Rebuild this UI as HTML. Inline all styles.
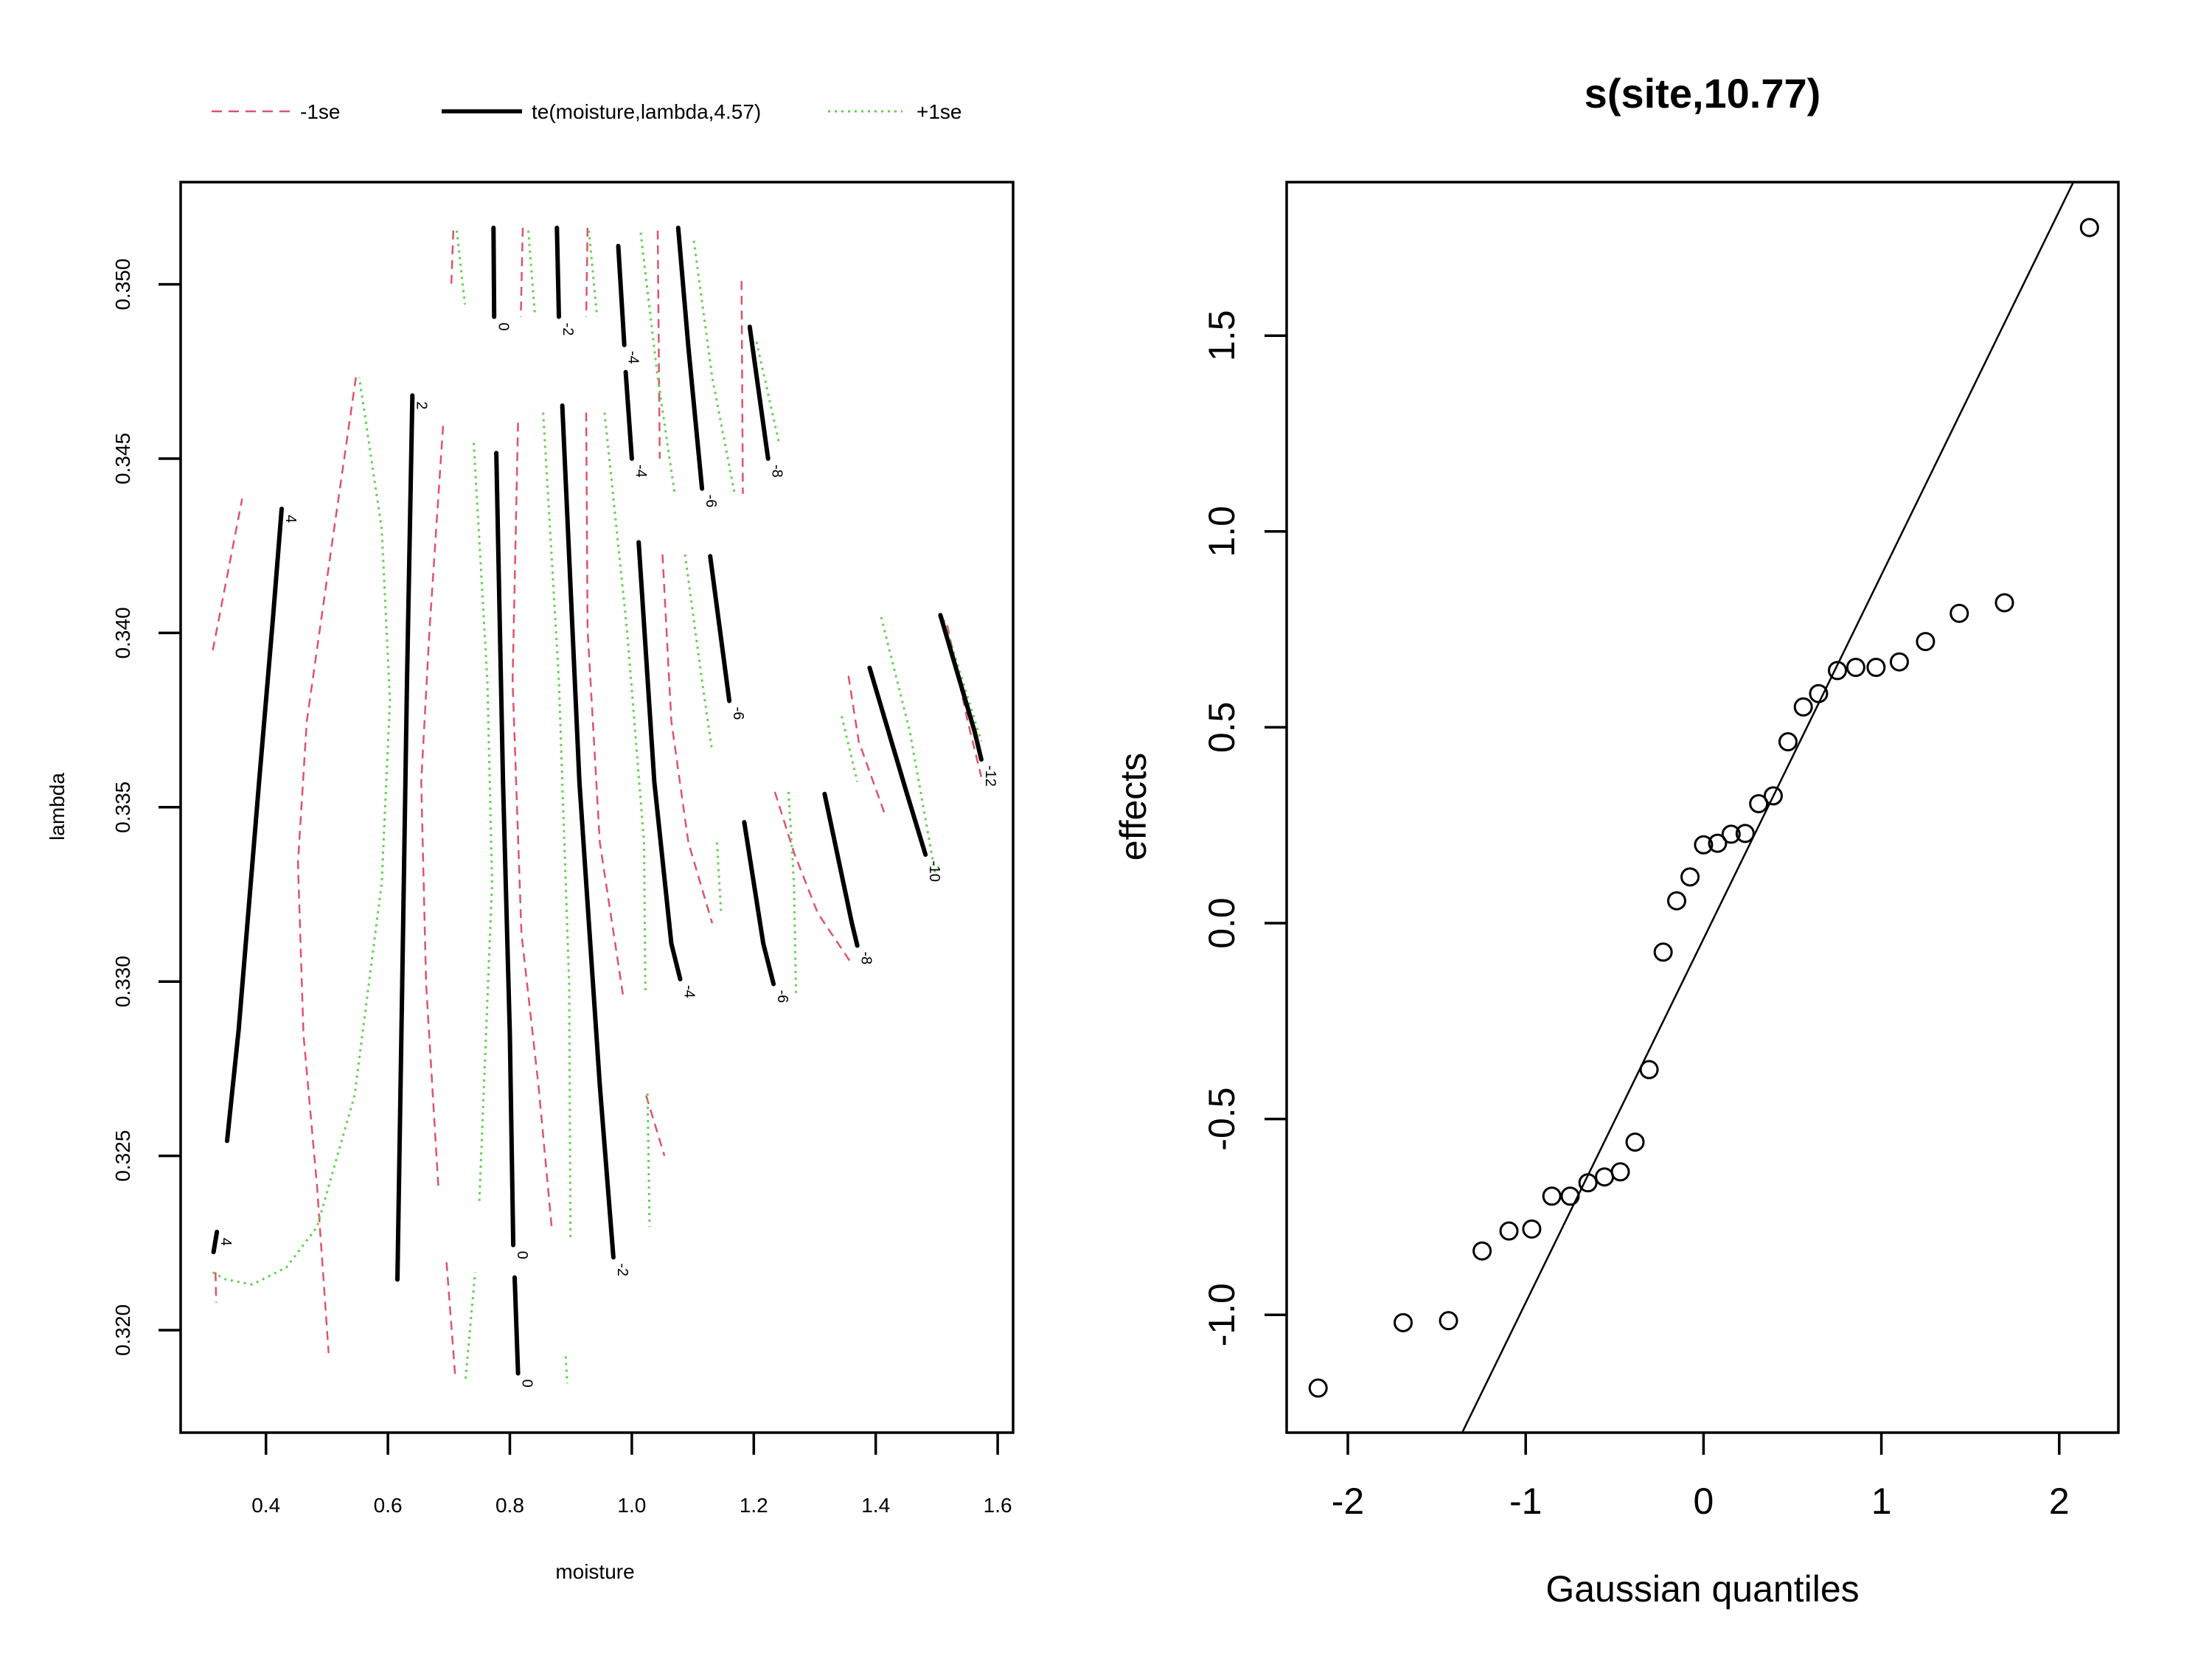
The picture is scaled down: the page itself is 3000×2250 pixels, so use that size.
<!DOCTYPE html>
<html><head><meta charset="utf-8"><style>
html,body{margin:0;padding:0;background:#fff;width:3000px;height:2250px;overflow:hidden;}
svg{display:block;font-family:"Liberation Sans",Arial,sans-serif;}
</style></head><body>
<svg id="chart" width="3000" height="2250" viewBox="0 0 3000 2250" xmlns="http://www.w3.org/2000/svg">
<rect x="0" y="0" width="3000" height="2250" fill="#fff"/>
<g id="left"></g>
<g id="right"></g>
</svg>
<script>
// ---- Right panel data (QQ plot) ----
const qqX = [-2.167,-1.689,-1.434,-1.245,-1.094,-0.966,-0.853,-0.750,-0.650,-0.557,-0.468,-0.385,-0.306,-0.227,-0.151,-0.076,0,0.079,0.155,0.234,0.310,0.392,0.475,0.561,0.647,0.753,0.856,0.970,1.101,1.248,1.438,1.692,2.170];
const qqY = [-1.187,-1.020,-1.015,-0.837,-0.786,-0.781,-0.697,-0.697,-0.663,-0.648,-0.635,-0.559,-0.374,-0.074,0.057,0.118,0.200,0.204,0.227,0.229,0.305,0.325,0.463,0.552,0.586,0.645,0.653,0.653,0.667,0.719,0.791,0.818,1.776];
const qqLine = [-0.040, 0.929]; // intercept, slope
const qqXTicks = [-2,-1,0,1,2];
const qqYTicks = [-1.0,-0.5,0.0,0.5,1.0,1.5];

// ---- Left panel data (contours: [moisture array, lambda array, label]) ----
const xTicksL = [0.4,0.6,0.8,1.0,1.2,1.4,1.6];
const yTicksL = [0.320,0.325,0.330,0.335,0.340,0.345,0.350];
const fitM = [
 [[.3363,.3553,.3888,.4112,.4257],[.32543,.32862,.33573,.34037,.34356],"4"],
 [[.314,.3196],[.32224,.32282],"4"],
 [[.6156,.6235,.6313,.6402],[.32145,.32993,.33863,.34681],"2"],
 [[.7777,.7888,.8000,.8056],[.34516,.33573,.32847,.32244],"0"],
 [[.8078,.8134],[.32151,.31876],"0"],
 [[.886,.914,.9475,.9698],[.34652,.33573,.32702,.32209],"-2"],
 [[1.0112,1.0369,1.0648,1.0793],[.3426,.33573,.33109,.33007],"-4"],
 [[1.1285,1.1598],[.3422,.33805],"-6"],
 [[1.1844,1.2156,1.2324],[.33457,.33109,.32993],"-6"],
 [[1.3162,1.3609,1.3698],[.33538,.33167,.33103],"-8"],
 [[1.39,1.4503,1.4816],[.339,.33544,.33364],"-10"],
 [[1.5061,1.5620,1.5732],[.34051,.33718,.33637],"-12"],
 [[.7732,.7743],[.35162,.34907],"0"],
 [[.8771,.8804],[.35162,.34907],"-2"],
 [[.9777,.9877],[.3511,.34826],"-4"],
 [[.99,1.0],[.34748,.345],"-4"],
 [[1.076,1.0927,1.1151],[.35162,.3482,.34414],"-6"],
 [[1.1933,1.2235],[.34878,.345],"-8"]
];
const loM = [
 [[.3128,.3385,.3609],[.3395,.34182,.34385]],
 [[.3173,.3184],[.32166,.32079]],
 [[.5475,.5117,.4670,.4525,.4615,.4838,.5028],[.34733,.34298,.33747,.33341,.32847,.32412,.31934]],
 [[.6905,.6682,.6547,.6626,.6827],[.34594,.34008,.33573,.32993,.32412]],
 [[.7073,.7039],[.35154,.34994]],
 [[.6961,.7106],[.32195,.31861]],
 [[.8134,.8045,.8190,.8469,.8693],[.34603,.33863,.33138,.32702,.32282]],
 [[.8212,.8179],[.35162,.34907]],
 [[.9251,.9274,.9475,.9866],[.34632,.34008,.33399,.32949]],
 [[.9274,.9251],[.35162,.34907]],
 [[1.0425,1.0458],[.35154,.345]],
 [[1.0503,1.0648,1.0927,1.1318],[.34225,.33747,.33399,.33167]],
 [[1.1799,1.1821],[.35009,.34399]],
 [[1.2346,1.2659,1.305,1.3587],[.33544,.3337,.33196,.33056]],
 [[1.3553,1.3721,1.4168],[.33877,.33689,.33471]],
 [[1.5173,1.5508,1.5732],[.34022,.33747,.33587]],
 [[1.0235,1.0536],[.32673,.325]]
];
const hiM = [
 [[.3128,.3330,.3777,.4335,.4838,.5453,.5899,.6034,.5899,.5531],[.32166,.32146,.32131,.3218,.32296,.32673,.33283,.33805,.34298,.34733]],
 [[.7129,.7263],[.35154,.34942]],
 [[.7274,.7430],[.31861,.32166]],
 [[.7408,.7631,.7709,.7575,.7497],[.34545,.33863,.33283,.32702,.3236]],
 [[.8302,.8413],[.35154,.34907]],
 [[.8547,.8804,.8972,.8994],[.34632,.33863,.32993,.32267]],
 [[.8916,.8939],[.31925,.31847]],
 [[.9296,.9430],[.35154,.34907]],
 [[.9553,.9922,1.0201,1.0223],[.34632,.34008,.33399,.32964]],
 [[1.0145,1.0425,1.0704],[.35148,.34733,.34399]],
 [[1.0872,1.1151,1.1318],[.34225,.33863,.3366]],
 [[1.1017,1.1318,1.1687],[.35125,.34733,.34399]],
 [[1.1397,1.1464],[.33399,.33196]],
 [[1.2045,1.2413],[.34835,.34545]],
 [[1.2570,1.2659,1.2693],[.33544,.33283,.32964]],
 [[1.3441,1.3698],[.33761,.33573]],
 [[1.4089,1.4559,1.4972],[.34045,.33718,.33312]],
 [[1.5117,1.5732],[.34037,.33689]],
 [[1.0257,1.0291],[.32679,.32296]]
];

const NS="http://www.w3.org/2000/svg";
function mk(parent,tag,attrs,text){const e=document.createElementNS(NS,tag);for(const k in attrs)e.setAttribute(k,attrs[k]);if(text!==undefined)e.textContent=text;parent.appendChild(e);return e;}

// axis functions
const xm = m => 360.7 + (m-0.4)*827;
const yL = l => 385.6 + (0.350-l)*47280;
const xq = q => 2310.4 + q*241.2;
const yE = e => 1252 - e*531.2;

// ---------- LEFT ----------
const L = document.getElementById('left');
const LB={x0:245,x1:1374,y0:247,y1:1943};
let lbox=mk(L,'rect',{x:LB.x0,y:LB.y0,width:LB.x1-LB.x0,height:LB.y1-LB.y0,fill:'none',stroke:'#000','stroke-width':3.5});


xTicksL.forEach(t=>{
  const x=xm(t);
  let tk=mk(L,'line',{x1:x,x2:x,y1:LB.y1,y2:LB.y1+30,stroke:'#000','stroke-width':3.5});
  
  
  let tl=mk(L,'text',{x:x,y:2051,'font-size':28,'text-anchor':'middle'},t.toFixed(1));
  
  
});
yTicksL.forEach(t=>{
  const y=yL(t);
  let tk=mk(L,'line',{x1:LB.x0-30,x2:LB.x0,y1:y,y2:y,stroke:'#000','stroke-width':3.5});
  
  
  let tl=mk(L,'text',{x:176,y:y,'font-size':28,'text-anchor':'middle',transform:`rotate(-90 176 ${y})`},t.toFixed(3));
  
  
});
let xt=mk(L,'text',{x:807,y:2141,'font-size':28,'text-anchor':'middle'},'moisture');


let yt=mk(L,'text',{x:87,y:1094,'font-size':28,'text-anchor':'middle',transform:'rotate(-90 87 1094)'},'lambda');


// legend
const lg=mk(L,'g',{});


let l1=mk(lg,'line',{x1:287,x2:396,y1:151,y2:151,stroke:'#DF536B','stroke-width':2.5,'stroke-dasharray':'14 9'});


let t1=mk(lg,'text',{x:407,y:161,'font-size':28},'-1se');


let l2=mk(lg,'line',{x1:599,x2:708,y1:151,y2:151,stroke:'#000','stroke-width':5.5});


let t2=mk(lg,'text',{x:721,y:161,'font-size':28},'te(moisture,lambda,4.57)');


let l3=mk(lg,'line',{x1:1123,x2:1224,y1:151,y2:151,stroke:'#61D04F','stroke-width':3,'stroke-dasharray':'3 6'});


let t3=mk(lg,'text',{x:1243,y:161,'font-size':28},'+1se');



function pts(ms,ls){return ms.map((m,i)=>xm(m).toFixed(1)+','+yL(ls[i]).toFixed(1)).join(' ');}
loM.forEach(c=>{
  let p=mk(L,'polyline',{points:pts(c[0],c[1]),fill:'none',stroke:'#DF536B','stroke-width':2.5,'stroke-dasharray':'12 8'});
  
  
});
hiM.forEach(c=>{
  let p=mk(L,'polyline',{points:pts(c[0],c[1]),fill:'none',stroke:'#61D04F','stroke-width':3,'stroke-dasharray':'3 6'});
  
  
});
fitM.forEach(c=>{
  let p=mk(L,'polyline',{points:pts(c[0],c[1]),fill:'none',stroke:'#000','stroke-width':6,'stroke-linecap':'round','stroke-linejoin':'round'});
  
  
  const n=c[0].length-1;
  const x=xm(c[0][n])+6, y=yL(c[1][n])+8;
  let lb=mk(L,'text',{x:x,y:y,'font-size':20,transform:`rotate(90 ${x} ${y})`},c[2]);
  
  
});

// ---------- RIGHT ----------
const R=document.getElementById('right');
const RB={x0:1745,x1:2873,y0:247,y1:1943};
let rbox=mk(R,'rect',{x:RB.x0,y:RB.y0,width:RB.x1-RB.x0,height:RB.y1-RB.y0,fill:'none',stroke:'#000','stroke-width':3.5});


let ttl=mk(R,'text',{x:2309,y:146,'font-size':56,'font-weight':'bold','text-anchor':'middle'},'s(site,10.77)');


qqXTicks.forEach(t=>{
  const x=xq(t);
  let tk=mk(R,'line',{x1:x,x2:x,y1:RB.y1,y2:RB.y1+30,stroke:'#000','stroke-width':3.5});
  
  
  let tl=mk(R,'text',{x:x,y:2053,'font-size':50,'text-anchor':'middle'},String(t));
  
  
});
qqYTicks.forEach(t=>{
  const y=yE(t);
  let tk=mk(R,'line',{x1:RB.x0-30,x2:RB.x0,y1:y,y2:y,stroke:'#000','stroke-width':3.5});
  
  
  let tl=mk(R,'text',{x:1674,y:y,'font-size':50,'text-anchor':'middle',transform:`rotate(-90 1674 ${y})`},t.toFixed(1));
  
  
});
let rxt=mk(R,'text',{x:2309,y:2172,'font-size':50,'text-anchor':'middle'},'Gaussian quantiles');


let ryt=mk(R,'text',{x:1554,y:1094,'font-size':50,'text-anchor':'middle',transform:'rotate(-90 1554 1094)'},'effects');


// qq line clipped
const cp=mk(R,'clipPath',{id:'rclip'});
mk(cp,'rect',{x:RB.x0,y:RB.y0,width:RB.x1-RB.x0,height:RB.y1-RB.y0});
const qa=-3, qb=3;
let ql=mk(R,'line',{x1:xq(qa),y1:yE(qqLine[0]+qqLine[1]*qa),x2:xq(qb),y2:yE(qqLine[0]+qqLine[1]*qb),stroke:'#000','stroke-width':2.5,'clip-path':'url(#rclip)'});


qqX.forEach((q,i)=>{
  let c=mk(R,'circle',{cx:xq(q),cy:yE(qqY[i]),r:11.5,fill:'none',stroke:'#000','stroke-width':3});
  
  
});
</script>
</body></html>
